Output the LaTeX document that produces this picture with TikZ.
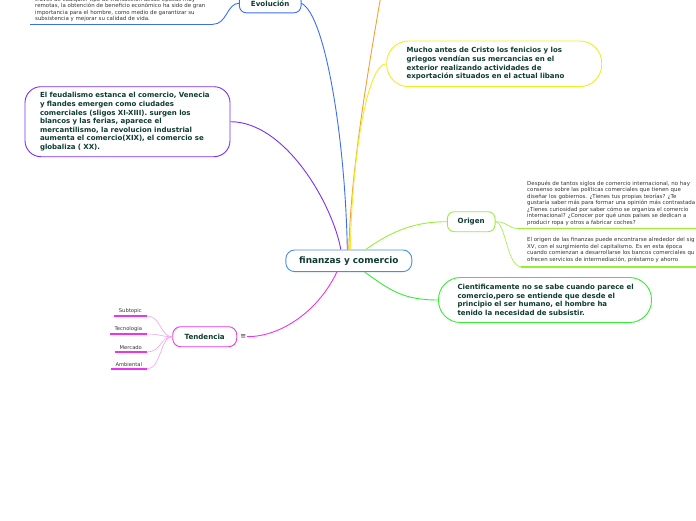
\documentclass[tikz,border=0pt]{standalone}
\usepackage{fontspec}
\setmainfont{DejaVu Sans}
\definecolor{tdark}{HTML}{0E3B30}
\definecolor{ngray}{HTML}{333333}
\definecolor{cblue}{HTML}{4A90D9}
\definecolor{eblue}{HTML}{3B6EF5}
\definecolor{corange}{HTML}{F5A030}
\definecolor{cyellow}{HTML}{EEEE22}
\definecolor{cpurple}{HTML}{7B2FF7}
\definecolor{clime}{HTML}{99EE33}
\definecolor{cgreen}{HTML}{33EE33}
\definecolor{cmag}{HTML}{EE33EE}
\definecolor{cmaglight}{HTML}{F5A0F5}
\tikzset{
  topicbox/.style={draw, fill=white, line width=0.9pt, text=tdark,
    font=\bfseries\fontsize{7.1}{8}\selectfont, inner sep=0pt},
  bigbox/.style={draw, fill=white, line width=0.9pt, text=tdark, align=left,
    font=\bfseries\fontsize{7}{8.6}\selectfont, inner ysep=0pt},
  notetext/.style={font=\fontsize{5.45}{6.45}\selectfont, text=ngray, align=left,
    inner sep=0pt, anchor=north west},
  subtopic/.style={font=\fontsize{5.2}{6}\selectfont, text=ngray, inner xsep=0pt,
    inner ysep=2pt, anchor=south east},
  conn/.style={line width=0.9pt},
  underl/.style={line width=1.6pt},
  subline/.style={draw=cmag, line width=1.4pt},
  subconn/.style={draw=cmaglight, line width=0.6pt}
}
\begin{document}
\begin{tikzpicture}[x=1pt,y=-1pt]
\useasboundingbox (0,0) rectangle (696,520);
\clip (0,0) rectangle (696,520);

% central
\node[topicbox, draw=cblue, rounded corners=9pt, minimum width=126pt, minimum height=21.7pt,
  font=\bfseries\fontsize{8.9}{10}\selectfont] (c) at (348.8,260.8) {finanzas y comercio};

% Evolucion
\node[topicbox, draw=eblue, rounded corners=7pt, minimum width=61.7pt, minimum height=19pt] (evo) at (270.2,3.3) {Evolución};
\node[notetext] (evotxt) at (35,-3.1) {través de cualquier tipo de transacción desde épocas muy\\
remotas, la obtención de beneficio económico ha sido de gran\\
importancia para el hombre, como medio de garantizar su\\
subsistencia y mejorar su calidad de vida.};
\coordinate (evoula) at (30,24.3);
\coordinate (evoulb) at (213,24.3);
\draw[eblue, underl] (evoula) -- (evoulb);
\draw[eblue, conn] (evoulb) .. controls +(14,0) and +(-12,0) .. (evo.west);

% purple box
\node[bigbox, draw=cpurple, rounded corners=16pt, minimum width=205pt, minimum height=70pt,
  text width=175pt, inner xsep=15pt] (feud) at (127.5,121.7) {\mbox{El feudalismo estanca el comercio, Venecia}\\
y flandes emergen como ciudades\\
\mbox{comerciales (sligos XI-XIII). surgen los}\\
blancos y las ferias, aparece el\\
\mbox{mercantilismo, la revolucion industrial}\\
\mbox{aumenta el comercio(XIX), el comercio se}\\
globaliza ( XX).};

% yellow box
\node[bigbox, draw=cyellow, rounded corners=22pt, minimum width=215pt, minimum height=45.7pt,
  text width=175pt, inner xsep=20pt] (fen) at (494.2,63.8) {\mbox{Mucho antes de Cristo los fenicios y los}\\
griegos vendían sus mercancias en el\\
exterior realizando actividades de\\
\mbox{exportación situados en el actual libano}};

% Origen
\node[topicbox, draw=clime, rounded corners=7pt, minimum width=47.7pt, minimum height=20pt] (orig) at (471.2,221.7) {Origen};
\node[notetext] (otxt1) at (527,180.9) {Después de tantos siglos de comercio internacional, no hay\\
consenso sobre las políticas comerciales que tienen que\\
diseñar los gobiernos. ¿Tienes tus propias teorías? ¿Te\\
gustaría saber más para formar una opinión más contrastada\\
¿Tienes curiosidad por saber cómo se organiza el comercio\\
internacional? ¿Conocer por qué unos países se dedican a\\
producir ropa y otros a fabricar coches?};
\node[notetext] (otxt2) at (527,237.6) {El origen de las finanzas puede encontrarse alrededor del sig\\
XV, con el surgimiento del capitalismo. Es en esta época\\
cuando comienzan a desarrollarse los bancos comerciales qu\\
ofrecen servicios de intermediación, préstamo y ahorro};
\coordinate (ou1a) at (518,228.5);
\coordinate (ou1b) at (700,228.5);
\coordinate (ou2a) at (521,266.7);
\coordinate (ou2b) at (700,266.7);
\draw[clime, underl] (ou1a) -- (ou1b);
\draw[clime, underl] (ou2a) -- (ou2b);
\draw[clime, line width=0.6pt] (orig.east) .. controls +(12,0) and +(-10,0) .. (ou1a);
\draw[clime, line width=0.6pt] (orig.east) .. controls +(10,0) and +(-14,0) .. (ou2a);

% green box
\node[bigbox, draw=cgreen, rounded corners=22pt, minimum width=213pt, minimum height=45pt,
  text width=175pt, inner xsep=19pt] (cient) at (545,300) {\mbox{Cientificamente no se sabe cuando parece el}\\
\mbox{comercio,pero se entiende que desde el}\\
principio el ser humano, el hombre ha\\
tenido la necesidad de subsistir.};

% Tendencia
\node[topicbox, draw=cmag, rounded corners=8pt, minimum width=64pt, minimum height=20pt] (tend) at (204.7,336.7) {Tendencia};
\node[text=ngray, font=\fontsize{7}{7}\selectfont, inner sep=0.5pt] (menu) at (243.3,336.7) {≡};
\node[subtopic, minimum width=33pt] (sa) at (147,316) {Subtopic};
\node[subtopic, minimum width=37pt] (sb) at (147,334) {Tecnologia};
\node[subtopic, minimum width=32pt] (sc) at (147,352) {Mercado};
\node[subtopic, minimum width=36pt] (sd) at (147,369) {Ambiental};
\draw[subconn] (sa.south east) .. controls +(14,0) and +(-12,0) .. (tend.west);
\draw[subconn] (sb.south east) .. controls +(14,0) and +(-12,0) .. (tend.west);
\draw[subconn] (sc.south east) .. controls +(14,0) and +(-12,0) .. (tend.west);
\draw[subconn] (sd.south east) .. controls +(14,0) and +(-12,0) .. (tend.west);
\path[subline] (sa.south west) -- (sa.south east);
\path[subline] (sb.south west) -- (sb.south east);
\path[subline] (sc.south west) -- (sc.south east);
\path[subline] (sd.south west) -- (sd.south east);

% connectors from the centre
\coordinate (orangeend) at (381,-5);
\draw[cpurple, conn] (feud.east) .. controls +(55,0) and +(-8,-45) .. ([xshift=-8pt]c.north);
\draw[eblue, conn] (evo.east) .. controls +(24,12) and +(-2,-110) .. ([xshift=-1.5pt]c.north);
\draw[corange, conn] ([xshift=0pt]c.north) .. controls +(2,-80) and +(-12,70) .. (orangeend);
\draw[cyellow, conn] ([xshift=1.5pt]c.north) .. controls +(2,-100) and +(-18,0) .. (fen.west);
\draw[clime, conn] ([xshift=17pt]c.north) .. controls +(28,-20) and +(-30,0) .. (orig.west);
\draw[cgreen, conn] ([xshift=16pt]c.south) .. controls +(25,18) and +(-35,0) .. (cient.west);
\draw[cmag, conn] ([xshift=-12pt]c.south) .. controls +(-18,38) and +(35,0) .. (menu.east);
\end{tikzpicture}
\end{document}
